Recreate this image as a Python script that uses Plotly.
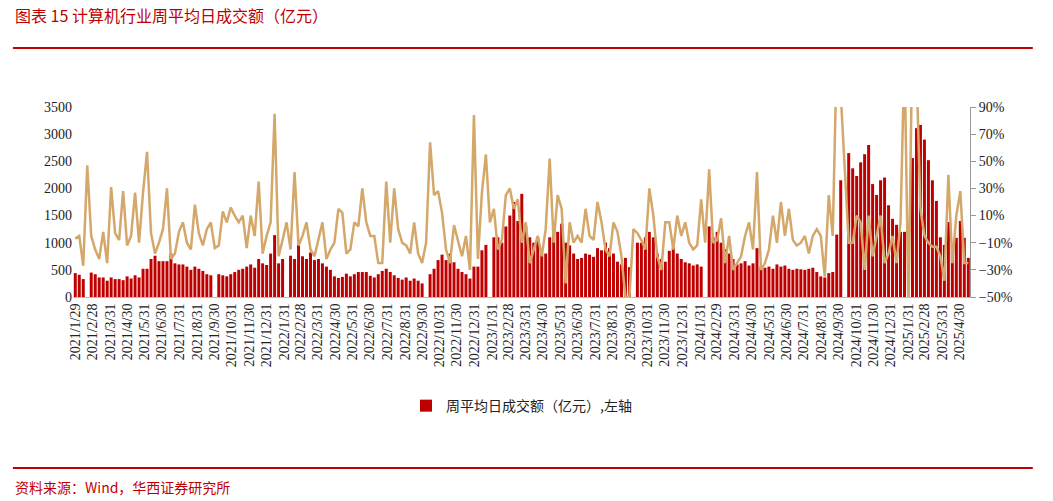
import pandas as pd
import plotly.graph_objects as go

N = None
bar_2021 = [440, 410,330,N,450, 420,360,360,300, 360,330,330,310,380, 340,400,360,520,
            520,700,760,660, 660,660,800,620,600, 600,560,500,560, 520,480,420,400,
            N,420,400,380,420, 460,500,520,560, 600,540,700,620,590]
line_2021 = [-7, -5,-27,47,-5, -15,-22,-2,-25, 31,-3,-8,28,-12, -5,27,-10,27,
             57,-3,-18,-10, 0,30,-22,-18,-2, 5,-10,-15,18, -3,-12,0,5,
             -14,-12,13,5,16, 10,5,10,-14, 10,-5,35,-18,-5]
bar_2022 = [800,1140,620,700, N,760,700,960, 750,700,820,680, 700,620,560,500,380,
            350,370,430,380, 420,460,460,460, 390,360,420,480,520, 460,400,350,320,
            360,300,340,300,250, N,420,520,680, 780,680,800,640, 520,460,420,340,560]
line_2022 = [5,85,-20,-8, 5,-15,42,-12, -5,5,-15,-20, -8,5,-22,-15,-10,
             15,12,-18,-15, 5,2,30,5, -5,-5,-25,-25,35, -10,30,0,-10,
             -12,-18,5,-18,-25, -10,64,25,28, 12,-15,-25,3, -8,-20,-5,-30,84]
bar_2023 = [560,860,960,N, 1100,1100,1000,1300, 1500,1750,1400,1900,1300, 1100,1000,1100,800,
            800,1100,1350,1200, 1350,1000,950,800,700, 720,800,780,740, 900,860,1000,900,
            800,650,600,720,550, N,1000,1000,1100, 1200,1100,800,700, 650,850,900,800,700]
line_2023 = [-22,27,55,5, 15,-15,-8,25, 30,15,22,-10,5, -25,-15,-5,-20,
             0,52,-10,25, 15,-40,5,-10,-5, -10,15,-5,-8, 20,5,-15,-20,
             5,-2,-20,-50,-50, 0,-3,-8,-15, 30,10,-20,-30, 5,5,-15,10,-5]
bar_2024 = [640,620,580,600, 560,N,1300,1100, 1200,1000,880,800,700, 600,620,660,580,
            620,900,560,540,560, 520,600,560,580, 520,500,520,510, 500,520,540,460,380,
            360,440,460,1150, 2150,N,2650,2370, 2230,2480,2630,2800,2080, 1880,2150,2200,1690]
line_2024 = [5,-10,-15,-12, 22,-10,44,-10, -8,8,-25,-5,-30, -25,-20,-5,5,
             -15,42,-30,-25,-15, 10,-10,20,-5, 15,-8,-12,-10, -5,-18,-5,0,-5,
             -35,25,-5,130, 100,40,-10,-10, 10,5,-30,10,-20, -5,10,-25,-18]
bar_2025 = [1440,1330,1200,1200,N, 2560,3110,3170,2900, 2520,2150,1770,1100,
            960,1380,830,1090, 1400,1090,720]
line_2025 = [-5,-25,5,130,-60, 150,120,15,-5, -10,-13,-13,-20,
             -38,40,-25,10, 28,-25,-25]

bars = bar_2021 + bar_2022 + bar_2023 + bar_2024 + bar_2025
line = line_2021 + line_2022 + line_2023 + line_2024 + line_2025
dates = pd.date_range("2021-01-29", periods=len(bars), freq="W-FRI")

tick_dates = pd.date_range("2021-01-31", "2025-04-30", freq="ME")
tick_text = ["2021/1/29"] + [f"{d.year}/{d.month}/{d.day}" for d in tick_dates[1:]]
tick_vals = [pd.Timestamp("2021-01-29")] + list(tick_dates[1:])

fig = go.Figure()
fig.add_bar(x=dates, y=bars, name="周平均日成交额（亿元）,左轴",
            marker_color="#c00000", marker_line_width=0)
fig.add_scatter(x=dates, y=line, yaxis="y2", mode="lines", showlegend=False,
                line=dict(color="#d4a76a", width=2.5))

font = "Liberation Serif, Noto Sans CJK SC"
fig.update_layout(
    width=1053, height=501, plot_bgcolor="white", paper_bgcolor="white",
    margin=dict(l=65, r=91, t=99, b=212), bargap=0.25,
    font=dict(family=font, size=14, color="#222"),
    xaxis=dict(type="date", tickvals=tick_vals, ticktext=tick_text, tickangle=-90,
               range=[pd.Timestamp("2021-01-25"), pd.Timestamp("2025-05-19")],
               showgrid=False, showline=True, linecolor="#bbb", tickfont=dict(size=14)),
    yaxis=dict(range=[0, 3500], dtick=500, showgrid=False, tickfont=dict(size=14)),
    yaxis2=dict(overlaying="y", side="right", range=[-50, 90], tick0=-50, dtick=20,
                ticksuffix="%", showgrid=False, showline=True, linecolor="#999",
                ticks="outside", tickcolor="#999", tickfont=dict(size=14)),
    legend=dict(orientation="h", x=0.5, xanchor="center", y=-0.574, yanchor="middle",
                font=dict(size=14, family="Noto Sans CJK SC")),
    shapes=[dict(type="line", xref="paper", yref="paper", x0=-0.067, x1=1.07,
                 y0=1.31, y1=1.31, line=dict(color="#c00000", width=2)),
            dict(type="line", xref="paper", yref="paper", x0=-0.067, x1=1.07,
                 y0=-0.9, y1=-0.9, line=dict(color="#c00000", width=2))],
    annotations=[
        dict(text="图表 15 计算机行业周平均日成交额（亿元）", xref="paper", yref="paper",
             x=-0.067, y=1.484, xanchor="left", yanchor="middle", showarrow=False,
             font=dict(size=16, color="#c00000", family="Noto Sans CJK SC")),
        dict(text="资料来源：Wind，华西证券研究所", xref="paper", yref="paper",
             x=-0.067, y=-1.0, xanchor="left", yanchor="middle", showarrow=False,
             font=dict(size=14, color="#c00000", family="Noto Sans CJK SC")),
    ],
)
fig.write_html("out.html")
